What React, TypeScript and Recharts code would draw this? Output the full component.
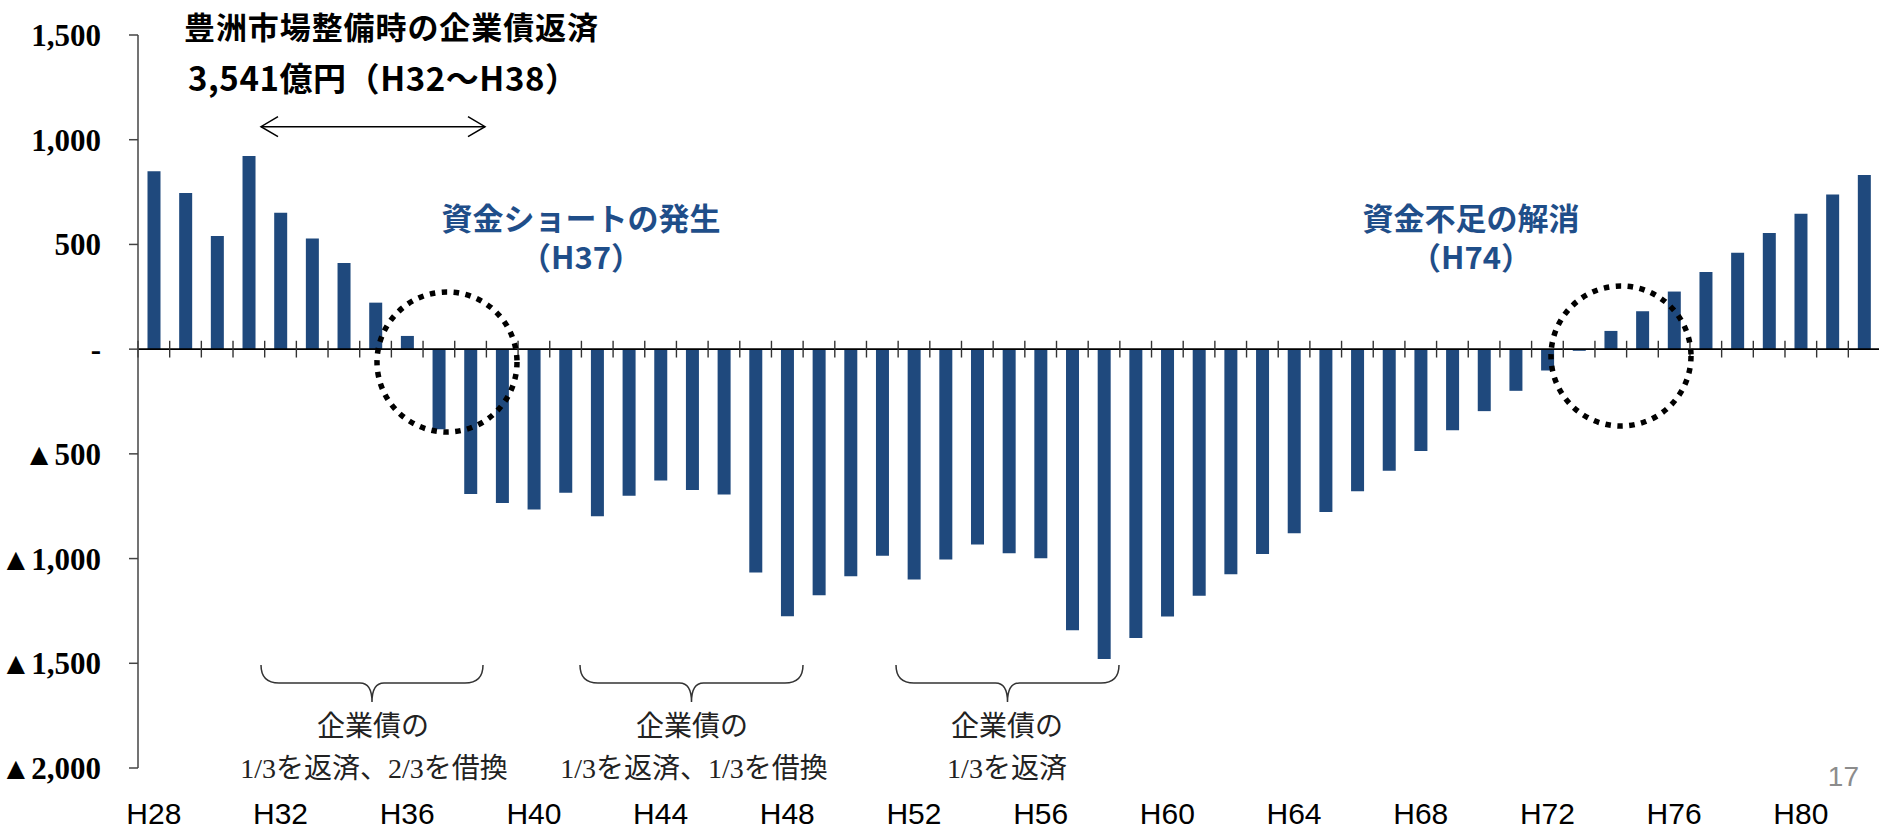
import React from 'react';
import { BarChart, Bar, XAxis, YAxis, ReferenceLine } from 'recharts';

// 年度（平成）
const years = [
  'H28', 'H29', 'H30', 'H31', 'H32', 'H33', 'H34', 'H35', 'H36', 'H37',
  'H38', 'H39', 'H40', 'H41', 'H42', 'H43', 'H44', 'H45', 'H46', 'H47',
  'H48', 'H49', 'H50', 'H51', 'H52', 'H53', 'H54', 'H55', 'H56', 'H57',
  'H58', 'H59', 'H60', 'H61', 'H62', 'H63', 'H64', 'H65', 'H66', 'H67',
  'H68', 'H69', 'H70', 'H71', 'H72', 'H73', 'H74', 'H75', 'H76', 'H77',
  'H78', 'H79', 'H80', 'H81', 'H82',
];

// 資金残高（億円）
const balance = [
  850, 745, 540, 922, 651, 528, 411, 222, 63, -382,
  -692, -735, -766, -686, -798, -700, -627, -672, -694, -1067,
  -1275, -1175, -1084, -987, -1100, -1005, -933, -974, -998, -1342,
  -1479, -1379, -1277, -1177, -1075, -978, -879, -778, -678, -581,
  -486, -387, -296, -199, -102, -8, 87, 181, 275, 368,
  460, 554, 646, 738, 831,
];

const yTicks = [1500, 1000, 500, 0, -500, -1000, -1500, -2000];
const yDomain = [-2000, 1500];

const data = years.map((year, i) => ({ year, balance: balance[i] }));

const BAR_COLOR = '#1F497D';
const TEXT_BLUE = '#1F4E89';
const TICK_HALF = 40; // half-length of category tick marks on the zero line, in value units

const fmtY = (v: number) =>
  v === 0 ? '-' : (v < 0 ? '▲' : '') + Math.abs(v).toLocaleString('en-US');

const XLabel = (props: any) => {
  const { x, y, payload } = props;
  return (
    <text
      x={x}
      y={y + 56}
      textAnchor="middle"
      fontFamily="'Liberation Sans', Arial, sans-serif"
      fontSize={30}
      fill="#000"
    >
      {payload.value}
    </text>
  );
};

const bracePath = (x1: number, x2: number, top: number) => {
  const cx = (x1 + x2) / 2;
  const mid = top + 18;
  const tip = top + 37;
  return `M ${x1} ${top} Q ${x1} ${mid} ${x1 + 18} ${mid} L ${cx - 12} ${mid} Q ${cx} ${mid} ${cx} ${tip} Q ${cx} ${mid} ${cx + 12} ${mid} L ${x2 - 18} ${mid} Q ${x2} ${mid} ${x2} ${top}`;
};

const JP_SANS = "'Noto Sans CJK JP', 'Noto Sans', sans-serif";
const JP_SERIF = "'Liberation Serif', 'Noto Sans CJK JP', serif";

export default function App() {
  return (
    <div
      style={{
        position: 'absolute',
        left: 0,
        top: 0,
        width: 1879,
        height: 828,
        overflow: 'hidden',
        background: '#fff',
      }}
    >
      <BarChart
        width={1880}
        height={828}
        data={data}
        margin={{ top: 35, right: 0, bottom: 0, left: 0 }}
        barCategoryGap="30%"
      >
        <XAxis
          dataKey="year"
          interval={3}
          axisLine={false}
          tickLine={false}
          tickSize={0}
          tickMargin={0}
          height={60}
          tick={<XLabel />}
        />
        <YAxis
          type="number"
          domain={yDomain}
          ticks={yTicks}
          width={138}
          interval={0}
          axisLine={{ stroke: '#444', strokeWidth: 1.5 }}
          tickLine={{ stroke: '#444', strokeWidth: 1.5 }}
          tickSize={9}
          tickMargin={28}
          tickFormatter={fmtY}
          tick={{
            fontFamily: "'Liberation Serif', 'Times New Roman', serif",
            fontWeight: 700,
            fontSize: 31,
            fill: '#000',
          }}
        />
        <Bar dataKey="balance" fill={BAR_COLOR} isAnimationActive={false} />
        <ReferenceLine y={0} stroke="#000" strokeWidth={1.6} />
        {years.map((yr) => (
          <ReferenceLine
            key={yr}
            position="start"
            segment={[
              { x: yr, y: -TICK_HALF },
              { x: yr, y: TICK_HALF },
            ]}
            stroke="#333"
            strokeWidth={1.4}
          />
        ))}
      </BarChart>

      <svg
        width={1879}
        height={828}
        style={{ position: 'absolute', left: 0, top: 0, pointerEvents: 'none' }}
      >
        {/* title annotations */}
        <text x={184} y={25} dominantBaseline="central" fontFamily={JP_SANS} fontWeight={700} fontSize={31} fill="#000" textLength={414} lengthAdjust="spacing">
          豊洲市場整備時の企業債返済
        </text>
        <text x={188} y={77} dominantBaseline="central" fontFamily={JP_SANS} fontWeight={700} fontSize={33} fill="#000" textLength={390} lengthAdjust="spacing">
          3,541億円（H32～H38）
        </text>
        {/* double arrow */}
        <g stroke="#000" strokeWidth={1.5} fill="none">
          <line x1={261} y1={126.7} x2={485} y2={126.7} />
          <polyline points="278,116.7 261,126.7 278,136.7" />
          <polyline points="468,116.7 485,126.7 468,136.7" />
        </g>

        {/* blue call-outs */}
        <text x={581} y={216} textAnchor="middle" dominantBaseline="central" fontFamily={JP_SANS} fontWeight={700} fontSize={31} fill={TEXT_BLUE}>
          資金ショートの発生
        </text>
        <text x={581} y={255} textAnchor="middle" dominantBaseline="central" fontFamily={JP_SANS} fontWeight={700} fontSize={31} fill={TEXT_BLUE}>
          （H37）
        </text>
        <text x={1471} y={216} textAnchor="middle" dominantBaseline="central" fontFamily={JP_SANS} fontWeight={700} fontSize={31} fill={TEXT_BLUE}>
          資金不足の解消
        </text>
        <text x={1471} y={255} textAnchor="middle" dominantBaseline="central" fontFamily={JP_SANS} fontWeight={700} fontSize={31} fill={TEXT_BLUE}>
          （H74）
        </text>

        {/* dotted circles */}
        <g stroke="#000" strokeWidth={5.5} strokeDasharray="5.5 6.5" fill="none">
          <circle cx={447} cy={362} r={70} />
          <circle cx={1621} cy={356} r={70} />
        </g>

        {/* braces */}
        <g stroke="#333" strokeWidth={1.5} fill="none">
          <path d={bracePath(261, 483, 665)} />
          <path d={bracePath(580, 803, 665)} />
          <path d={bracePath(896, 1119, 665)} />
        </g>
        <g fontFamily={JP_SERIF} fontSize={28} fill="#222" textAnchor="middle" dominantBaseline="central">
          <text x={373} y={726}>企業債の</text>
          <text x={374} y={768}>1/3を返済、2/3を借換</text>
          <text x={692} y={726}>企業債の</text>
          <text x={694} y={768}>1/3を返済、1/3を借換</text>
          <text x={1007} y={726}>企業債の</text>
          <text x={1007} y={768}>1/3を返済</text>
        </g>

        {/* page number */}
        <text x={1859} y={776} textAnchor="end" dominantBaseline="central" fontFamily="'Liberation Sans', sans-serif" fontSize={28} fill="#8C8C8C">
          17
        </text>
      </svg>
    </div>
  );
}
